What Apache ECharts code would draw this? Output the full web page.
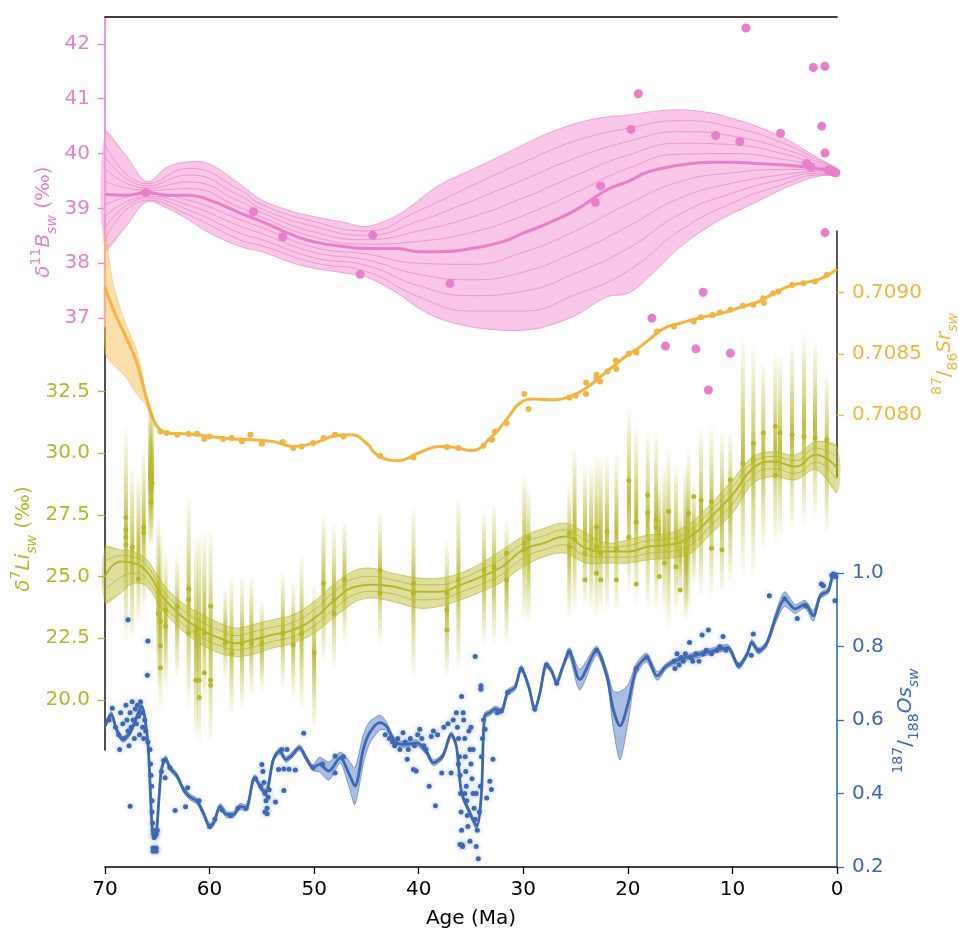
<!DOCTYPE html>
<html><head><meta charset="utf-8">
<script src="https://cdn.jsdelivr.net/npm/echarts@6.0.0/dist/echarts.min.js"></script>
<style>html,body{margin:0;padding:0;background:#fff}#c{width:959px;height:928px}</style>
</head><body><div id="c"></div>
<script>
// ---------- Boron (δ11B) ----------
const bAges = [70,68,66,64,62,60,57,55,52,50,47,45,42,40,38,35,32,30,28,25,22,20,18,15,12,10,8,5,2,0];
const bLo  = [38.24,38.67,39.12,39.00,38.79,38.55,38.30,38.21,38.00,37.91,37.82,37.75,37.45,37.18,36.99,36.84,36.78,36.78,36.84,37.05,37.39,37.45,37.75,38.30,38.70,38.91,39.09,39.37,39.58,39.61];
const bMed = [39.26,39.24,39.29,39.24,39.24,39.15,38.91,38.76,38.51,38.39,38.30,38.27,38.27,38.21,38.21,38.27,38.39,38.55,38.70,38.97,39.34,39.49,39.67,39.79,39.84,39.84,39.82,39.79,39.73,39.67];
const bUp  = [40.40,39.97,39.49,39.76,39.85,39.81,39.43,39.15,38.94,38.85,38.74,38.67,38.88,39.15,39.43,39.70,39.97,40.16,40.34,40.55,40.67,40.70,40.76,40.80,40.74,40.64,40.52,40.28,39.94,39.73];
const bQAges = [70,66,62,57,55,50,45,40,35,30,25,20,15,10,5,2,0];
const bQu1 = [39.49,39.33,39.36,39.01,38.84,38.48,38.35,38.40,38.56,38.87,39.29,39.73,39.99,40.00,39.89,39.77,39.68];
const bQu2 = [39.72,39.37,39.48,39.12,38.92,38.57,38.43,38.59,38.84,39.19,39.60,39.97,40.19,40.16,39.99,39.81,39.69];
const bQu3 = [39.94,39.41,39.61,39.22,38.99,38.67,38.51,38.77,39.13,39.52,39.92,40.22,40.40,40.32,40.08,39.86,39.71];
const bQu4 = [40.17,39.45,39.73,39.33,39.07,38.76,38.59,38.96,39.41,39.84,40.23,40.46,40.60,40.48,40.18,39.90,39.72];
const bQl1 = [39.06,39.26,39.15,38.79,38.65,38.29,38.17,38.00,37.98,38.20,38.59,39.08,39.49,39.65,39.71,39.70,39.66];
const bQl2 = [38.85,39.22,39.06,38.67,38.54,38.20,38.06,37.80,37.70,37.84,38.20,38.67,39.19,39.46,39.62,39.67,39.65];
const bQl3 = [38.65,39.19,38.97,38.54,38.43,38.10,37.96,37.59,37.41,37.49,37.82,38.27,38.90,39.28,39.54,39.64,39.63];
const bQl4 = [38.44,39.15,38.88,38.42,38.32,38.01,37.85,37.39,37.13,37.13,37.43,37.86,38.60,39.10,39.45,39.61,39.62];
const bPts = [[66.1,39.29],[55.8,38.94],[53.0,38.48],[45.6,37.80],[44.4,38.51],[37.0,37.63],[23.1,39.11],[22.6,39.41],[19.7,40.44],[19.0,41.09],[17.7,37.0],[16.4,36.49],[13.5,36.44],[12.8,37.47],[12.3,35.69],[11.6,40.33],[10.2,36.36],[9.3,40.22],[8.7,42.29],[5.4,40.37],[2.9,39.82],[2.5,39.75],[2.27,41.57],[1.46,40.50],[1.15,41.59],[1.15,40.01],[1.15,38.56],[0.8,39.70],[0.5,39.68],[0.3,39.66],[0.1,39.65]];
const bTicks = [37,38,39,40,41,42];

// ---------- Strontium (87/86Sr) ----------
const srAges = [70,69.2,68.1,67,66,65.3,64.7,64,62,60,58,56,54,52,50,48,46.5,45,44,42,40,38,36.5,35,33,31.5,30.3,29,27,25.5,24,22,20,19,18,16.5,15,13,11,9,7.5,6,4.5,3,1.5,0];
const srVals = [0.709049,0.708859,0.708655,0.708437,0.708125,0.707948,0.70788,0.707853,0.707845,0.707825,0.707807,0.707798,0.707785,0.707744,0.707771,0.70783,0.707839,0.707771,0.707676,0.707627,0.70769,0.707744,0.707736,0.707711,0.707825,0.707975,0.708098,0.70813,0.708125,0.708152,0.70822,0.708356,0.708492,0.708546,0.708614,0.70871,0.70875,0.708796,0.708832,0.708886,0.708927,0.708995,0.709055,0.709082,0.709117,0.709191];
const srBandAges = [70,69.2,68.1,67,66,65.3,64.7];
const srBandLo = [0.708506,0.70841,0.70832,0.708175,0.70807,0.70793,0.707872];
const srBandHi = [0.709498,0.70906,0.708761,0.708533,0.708166,0.707966,0.707888];
const srPts = [[64.7,0.707866],[64.1,0.707853],[63.1,0.707839],[62.0,0.707845],[61.2,0.707847],[60.5,0.707804],[60.0,0.707825],[58.7,0.707804],[57.9,0.707812],[56.9,0.707785],[56.1,0.707839],[55.0,0.707766],[53.0,0.70778],[52.0,0.707731],[51.2,0.707744],[50.1,0.707771],[49.1,0.707812],[48.0,0.707839],[47.2,0.707825],[43.7,0.707668],[40.5,0.707654],[37.3,0.707739],[36.2,0.707731],[33.8,0.70775],[33.0,0.707798],[32.7,0.707866],[31.6,0.707935],[29.9,0.708171],[29.5,0.708049],[25.6,0.708144],[25.0,0.708157],[24.0,0.708266],[24.0,0.708171],[23.0,0.708329],[23.0,0.708305],[22.65,0.708274],[21.95,0.708356],[21.16,0.708445],[21.1,0.708375],[19.9,0.7085],[19.2,0.708511],[17.2,0.708682],[15.6,0.708723],[13.7,0.708763],[13.0,0.708799],[11.9,0.708818],[11.2,0.708837],[10.2,0.708859],[9.0,0.708892],[8.0,0.7089],[7.05,0.708954],[7.0,0.708915],[6.1,0.708995],[5.6,0.709008],[4.3,0.709063],[3.2,0.709077],[2.1,0.70909],[0.98,0.709144]];
const srTicks = [0.7080,0.7085,0.7090];

// ---------- Lithium (δ7Li) ----------
const liAges = [70,68.5,67.3,66,64.5,63,61,59,57.5,56,54,52,50,48,46,44.5,42.5,40,38,36,34,32,30,28,26,24,22,20,18,16,14,12,10,8,6,4,2,0];
const liLo  = [23.92,24.33,24.73,24.6,23.65,22.97,22.3,21.89,21.76,21.83,22.1,22.3,22.7,23.38,23.99,24.13,23.99,23.72,23.79,24.06,24.39,24.8,25.41,25.81,25.95,25.55,25.55,25.55,25.68,25.75,25.95,26.76,27.57,28.79,29.06,28.92,29.33,28.39];
const liMed = [25.0,25.61,25.55,25.2,24.19,23.52,22.9,22.5,22.3,22.43,22.64,22.84,23.31,24.06,24.6,24.67,24.6,24.39,24.39,24.67,25.0,25.41,26.09,26.36,26.63,26.15,26.02,26.02,26.22,26.29,26.63,27.44,28.32,29.4,29.67,29.46,29.94,29.4];
const liUp  = [26.22,26.08,26.02,25.68,24.73,24.06,23.52,23.11,22.91,23.04,23.25,23.45,23.99,24.73,25.27,25.34,25.14,24.94,24.94,25.14,25.55,26.09,26.63,26.96,27.17,26.76,26.36,26.49,26.69,26.76,27.17,27.98,28.92,29.87,30.07,29.94,30.48,30.28];
const liQu  = [25.61,25.85,25.79,25.44,24.46,23.79,23.21,22.81,22.61,22.74,22.95,23.15,23.65,24.40,24.94,25.01,24.87,24.67,24.67,24.91,25.28,25.75,26.36,26.66,26.90,26.46,26.19,26.26,26.46,26.53,26.90,27.71,28.62,29.64,29.87,29.70,30.21,29.84];
const liQl  = [24.46,24.97,25.14,24.9,23.92,23.25,22.6,22.2,22.03,22.13,22.37,22.57,23.01,23.72,24.30,24.40,24.30,24.06,24.09,24.37,24.70,25.11,25.75,26.09,26.29,25.85,25.79,25.79,25.95,26.02,26.29,27.10,27.95,29.10,29.37,29.19,29.64,28.90];
const liBars = [[68.0,22.2,31.2],[67.4,22.3,29.6],[66.8,23.0,29.2],[66.3,23.5,30.3],[65.7,26.2,32.3],[65.6,26.0,31.8],[65.5,26.5,32.0],[64.9,20.4,27.6],[64.7,19.5,27.0],[64.2,20.3,26.1],[63.1,20.8,26.0],[62.0,19.5,28.4],[61.3,18.4,26.5],[61.0,18.1,26.9],[60.5,19.5,26.9],[59.9,18.1,27.0],[58.5,20.8,24.6],[57.9,19.3,25.1],[56.9,19.5,25.1],[56.0,20.1,25.1],[55.0,20.3,24.1],[53.0,20.4,25.3],[52.0,20.0,24.9],[51.2,19.5,26.0],[50.0,18.7,24.9],[49.1,21.4,27.7],[48.1,21.2,27.2],[47.1,22.2,27.4],[43.7,22.2,27.7],[40.5,20.8,28.0],[37.3,20.8,26.6],[36.2,21.1,28.4],[33.75,22.2,27.8],[32.8,22.2,28.1],[31.6,22.2,27.4],[29.9,23.2,29.3],[29.5,23.0,28.7],[25.6,23.2,28.9],[25.1,23.5,30.4],[24.1,23.8,29.6],[23.5,23.5,29.6],[23.0,23.2,30.0],[22.6,23.5,29.9],[22.0,23.5,30.0],[21.1,23.5,30.1],[19.9,24.2,32.0],[19.2,23.8,31.2],[18.1,23.5,31.0],[17.3,23.5,31.0],[17.0,24.6,28.9],[16.5,23.5,29.6],[16.1,22.8,30.3],[15.4,23.5,29.6],[15.0,24.2,27.8],[14.5,23.0,29.5],[14.4,23.5,28.5],[14.2,23.5,30.3],[13.7,24.6,28.9],[13.0,24.1,31.1],[12.0,24.1,31.2],[11.0,24.2,31.0],[10.2,24.6,31.0],[9.0,24.9,34.8],[8.0,24.9,34.5],[7.05,26.0,33.9],[5.9,26.2,34.2],[5.45,26.5,34.0],[4.3,26.8,34.6],[3.16,27.0,35.0],[2.1,27.3,34.7],[0.98,26.6,33.4]];
const liPts = [[68.0,27.4],[68.0,26.9],[68.0,26.6],[68.0,26.3],[67.4,26.2],[66.8,24.9],[66.3,27.0],[66.3,26.8],[65.6,29.0],[65.6,28.6],[65.6,28.0],[65.5,28.8],[64.9,24.4],[64.9,23.5],[64.7,23.2],[64.7,22.2],[64.7,21.3],[64.2,23.65],[64.2,23.0],[63.1,23.8],[62.0,24.5],[62.0,24.06],[62.0,22.7],[61.3,22.84],[61.3,20.8],[61.0,20.8],[61.0,20.1],[60.5,22.7],[60.5,21.1],[59.9,23.8],[59.9,20.8],[59.9,20.6],[58.5,22.3],[57.9,21.9],[56.9,22.3],[56.0,22.3],[55.0,22.3],[53.0,22.7],[52.0,22.23],[51.2,22.7],[50.0,21.9],[49.1,24.73],[48.1,24.06],[48.1,23.5],[47.1,24.87],[43.7,25.27],[43.7,24.33],[40.5,24.73],[40.5,24.33],[37.3,24.33],[37.3,23.65],[37.3,22.84],[36.2,24.87],[33.75,25.27],[32.8,25.4],[31.6,25.95],[31.6,24.87],[29.9,26.36],[29.9,26.1],[29.5,26.6],[25.6,26.76],[25.6,26.2],[25.1,26.5],[24.1,25.95],[24.1,24.87],[23.0,27.0],[23.0,26.2],[23.0,25.14],[22.6,25.95],[22.6,24.87],[22.0,26.83],[21.1,26.1],[21.1,24.87],[19.9,28.9],[19.9,26.6],[19.2,27.2],[19.2,24.7],[18.1,28.3],[18.1,27.6],[17.3,27.3],[17.3,27.0],[17.0,25.0],[16.5,25.55],[16.1,27.64],[15.4,25.4],[15.0,24.46],[14.2,27.57],[13.7,28.25],[13.0,28.1],[12.0,28.04],[12.0,26.15],[11.0,26.09],[10.2,28.92],[9.0,29.6],[8.0,30.41],[8.0,29.74],[7.05,30.82],[5.9,31.09],[5.9,29.1],[5.45,30.82],[4.3,30.75],[3.16,30.68],[2.1,30.62],[0.98,30.55]];
const liTicks = [20,22.5,25,27.5,30,32.5];

// ---------- Osmium (187/188Os) ----------
const osAges = [70,69.4,68.9,68.3,67.6,67.0,66.5,66.0,65.8,65.5,65.3,65.1,64.8,64.6,64.2,63.8,63.1,62.5,61.9,61.2,60.6,60.0,59.6,59.0,58.4,57.7,57.1,56.5,55.7,55.0,54.6,53.9,53.3,52.7,52.2,51.4,50.7,50.1,49.5,48.6,47.5,46.7,46.1,45.3,44.7,43.7,43.1,42.3,41.5,40.2,39.3,38.6,37.7,36.9,36.4,35.9,35.1,34.45,34.0,33.7,33.2,32.7,32.1,31.5,30.8,30.2,29.5,28.9,28.4,27.8,27.3,26.8,26.2,25.6,24.6,23.0,22.0,21.4,20.75,19.96,19.2,18.2,17.2,16.3,15.0,13.7,12.5,11.2,10.4,9.4,8.6,8.15,7.5,6.75,5.8,5.0,4.0,3.06,2.27,1.6,0.84,0.35,0.0];
const osVals = [0.584,0.615,0.5745,0.547,0.5655,0.606,0.638,0.5655,0.4927,0.311,0.2835,0.288,0.402,0.4654,0.4945,0.470,0.447,0.411,0.391,0.379,0.347,0.311,0.32,0.365,0.343,0.343,0.365,0.361,0.443,0.411,0.405,0.4927,0.515,0.4927,0.502,0.5245,0.4927,0.470,0.479,0.461,0.4973,0.456,0.42,0.52,0.5655,0.593,0.5836,0.5427,0.5336,0.538,0.515,0.4836,0.502,0.561,0.529,0.402,0.347,0.311,0.402,0.611,0.62,0.63,0.6245,0.6746,0.688,0.740,0.6927,0.630,0.6746,0.750,0.7336,0.702,0.747,0.784,0.71,0.788,0.72,0.629,0.584,0.647,0.738,0.77,0.72,0.747,0.7655,0.7745,0.7838,0.793,0.797,0.747,0.779,0.811,0.788,0.8064,0.8836,0.929,0.902,0.9155,0.8836,0.938,0.952,0.9927,0.9927];
const osHalf = [0.008,0.008,0.008,0.008,0.008,0.008,0.008,0.008,0.008,0.008,0.008,0.008,0.008,0.008,0.008,0.008,0.008,0.008,0.008,0.008,0.008,0.008,0.008,0.008,0.008,0.008,0.008,0.008,0.008,0.008,0.008,0.008,0.008,0.008,0.008,0.008,0.008,0.008,0.02,0.025,0.015,0.035,0.05,0.04,0.03,0.02,0.012,0.008,0.008,0.008,0.008,0.008,0.008,0.008,0.008,0.008,0.008,0.008,0.008,0.008,0.008,0.008,0.008,0.008,0.008,0.008,0.008,0.008,0.008,0.008,0.008,0.008,0.008,0.012,0.028,0.012,0.015,0.05,0.093,0.05,0.015,0.012,0.012,0.008,0.008,0.008,0.008,0.008,0.008,0.008,0.008,0.008,0.008,0.008,0.015,0.02,0.012,0.01,0.015,0.008,0.008,0.008,0.008];
const osPts = [[69.6,0.60],[69.3,0.632],[69.0,0.58],[68.7,0.56],[68.6,0.52],[68.5,0.62],[68.3,0.59],[68.2,0.55],[68.0,0.64],[67.9,0.60],[67.8,0.57],[67.7,0.53],[67.6,0.62],[67.5,0.58],[67.4,0.65],[67.3,0.60],[67.2,0.55],[67.1,0.63],[67.0,0.59],[66.9,0.64],[66.8,0.61],[66.7,0.56],[66.6,0.65],[66.5,0.62],[66.4,0.58],[66.3,0.55],[66.2,0.60],[66.1,0.57],[65.9,0.54],[67.8,0.873],[65.9,0.815],[65.95,0.722],[67.6,0.365],
[65.7,0.52],[65.65,0.48],[65.6,0.45],[65.55,0.42],[65.5,0.38],[65.5,0.35],[65.45,0.32],[65.4,0.30],[65.35,0.29],[65.3,0.28],[65.2,0.285],[65.1,0.29],[65.4,0.252],[65.1,0.243],[65.4,0.243],[65.1,0.252],[65.0,0.30],[64.6,0.46],[64.25,0.443],[64.4,0.49],[63.8,0.47],
[63.3,0.354],[62.3,0.364],[62.1,0.4155],[61.0,0.38],[60.0,0.31],[59.5,0.33],[58.8,0.355],[58.0,0.34],[57.3,0.36],[56.5,0.36],
[55.6,0.44],[55.1,0.42],[55.0,0.479],[54.9,0.46],[54.8,0.43],[54.7,0.40],[54.6,0.38],[54.5,0.36],[54.5,0.345],[54.4,0.39],[54.3,0.41],[54.7,0.35],
[53.7,0.377],[52.9,0.408],[53.4,0.465],[52.9,0.467],[52.4,0.466],[51.8,0.464],[53.1,0.52],[52.6,0.52],[51.0,0.564],[50.1,0.47],[49.2,0.48],[48.0,0.502],[48.0,0.456],[47.2,0.50],
[43.2,0.56],[42.8,0.55],[42.5,0.54],[42.3,0.53],[42.0,0.55],[41.8,0.52],[41.5,0.565],[41.3,0.54],[41.1,0.493],[41.0,0.52],[40.8,0.55],[40.5,0.465],[40.4,0.53],[40.25,0.461],[40.1,0.56],[39.9,0.5745],[39.7,0.55],[39.5,0.53],[39.3,0.52],[39.0,0.42],[38.8,0.555],[38.6,0.57],[38.4,0.367],[38.2,0.56],[37.8,0.456],[37.6,0.58],[37.2,0.59],[36.9,0.456],[36.7,0.60],
[36.4,0.62],[36.3,0.58],[36.2,0.55],[36.1,0.50],[36.05,0.45],[36.0,0.40],[35.95,0.35],[35.9,0.664],[35.9,0.30],[35.85,0.26],[35.8,0.256],[36.05,0.261],[35.7,0.60],[35.6,0.55],[35.55,0.50],[35.5,0.46],[35.45,0.42],[35.4,0.38],[35.35,0.34],[35.3,0.31],[35.2,0.57],[35.1,0.27],[35.1,0.52],[35.0,0.48],[34.9,0.44],[34.8,0.40],[34.7,0.36],[34.6,0.773],[34.6,0.33],[34.5,0.256],[34.4,0.30],[34.3,0.2227],[34.2,0.35],[34.1,0.42],[34.05,0.693],[34.05,0.684],[34.0,0.50],[33.9,0.55],[33.8,0.60],[33.65,0.5745],[33.5,0.388],[33.2,0.4335],[33.05,0.411],[32.9,0.493],[32.5,0.62],[32.1,0.6245],[35.75,0.62],[35.0,0.58],[34.8,0.52],[36.2,0.48],[35.6,0.40],[34.5,0.40],
[31.5,0.675],[30.2,0.738],[28.9,0.63],[27.8,0.75],[26.8,0.70],[25.6,0.785],[23.0,0.79],[19.2,0.74],[18.2,0.77],
[15.6,0.76],[15.5,0.74],[15.3,0.78],[15.1,0.75],[14.9,0.77],[14.7,0.76],[14.5,0.78],[14.1,0.811],[14.0,0.77],[13.8,0.76],[13.5,0.78],[13.2,0.76],[12.9,0.831],[12.8,0.78],[12.5,0.79],[12.3,0.845],[12.0,0.78],[11.5,0.79],[11.2,0.80],[10.9,0.827],[10.6,0.79],[9.4,0.75],[8.2,0.776],[8.0,0.834],[7.5,0.79],[6.47,0.938],[5.0,0.93],[3.8,0.876],[3.0,0.91],[1.5,0.97],[1.3,0.965],[0.5,0.993],[0.35,0.997],[0.2,0.9245],[0.1,0.99]];

const xTicksInterval = 10;

// ---------- styling ----------
const PINK = '#e97fc9', ORANGE = '#f3b440', OLIVE = '#b5b829', BLUE = '#3d67b2';
const FONT = 'DejaVu Sans';
const zip = (a, b) => a.map((x, i) => [x, b[i]]);

// confidence band drawn as a polygon through the axis scales
function bandSeries(gi, ages, lo, hi, edgeColor, fill, z, smooth) {
  return {
    type: 'custom', xAxisIndex: gi, yAxisIndex: gi, data: [[ages[0], lo[0], hi[0]]], z: z, silent: true, clip: false,
    renderItem: function (params, api) {
      const upper = ages.map((a, i) => api.coord([a, hi[i]]));
      const lower = ages.map((a, i) => api.coord([a, lo[i]]));
      const poly = upper.concat(lower.slice().reverse());
      return {type: 'group', children: [
        {type: 'polygon', shape: {points: poly, smooth: smooth}, style: {fill: fill, stroke: null}},
        {type: 'polyline', shape: {points: upper, smooth: smooth}, style: {fill: null, stroke: edgeColor, lineWidth: 0.8}},
        {type: 'polyline', shape: {points: lower, smooth: smooth}, style: {fill: null, stroke: edgeColor, lineWidth: 0.8}}
      ]};
    }
  };
}
function lineSeries(gi, ages, vals, color, width, z, smooth, opacity) {
  return {type: 'line', xAxisIndex: gi, yAxisIndex: gi, data: zip(ages, vals), symbol: 'none',
          smooth: smooth, lineStyle: {width: width, color: color, opacity: opacity == null ? 1 : opacity}, silent: true, z: z, clip: false};
}
function scatterSeries(gi, pts, color, size, z, glow) {
  const st = {color: color, opacity: 1};
  if (glow) { st.shadowBlur = 5; st.shadowColor = 'rgba(61,103,178,0.55)'; }
  return {type: 'scatter', xAxisIndex: gi, yAxisIndex: gi, data: pts, symbolSize: size,
          itemStyle: st, silent: true, z: z, clip: false};
}

const series = [];
// Boron
series.push(bandSeries(0, bAges, bLo, bUp, 'rgba(233,127,201,0.8)', 'rgba(244,160,214,0.6)', 2, 0.35));
[bQu1, bQu2, bQu3, bQu4, bQl1, bQl2, bQl3, bQl4].forEach(q => series.push(lineSeries(0, bQAges, q, PINK, 0.9, 2, 0.5, 0.75)));
series.push(lineSeries(0, bAges, bMed, PINK, 3, 2, 0.5));
series.push(scatterSeries(0, bPts, PINK, 9, 2));
// Strontium
series.push(bandSeries(1, srBandAges, srBandLo, srBandHi, 'rgba(243,180,64,0.6)', 'rgba(246,196,100,0.55)', 3, 0.3));
series.push(lineSeries(1, srAges, srVals, ORANGE, 3, 3, 0.5));
series.push(scatterSeries(1, srPts, ORANGE, 6, 3));
// Lithium bars
series.push({
  type: 'custom', xAxisIndex: 2, yAxisIndex: 2, data: liBars, z: 4, silent: true,
  encode: {x: 0, y: [1, 2]},
  renderItem: function (params, api) {
    const a = api.value(0), lo = api.value(1), hi = api.value(2);
    const p1 = api.coord([a, hi]), p2 = api.coord([a, lo]);
    return {
      type: 'rect',
      shape: {x: p1[0] - 2, y: p1[1], width: 4, height: p2[1] - p1[1]},
      style: {fill: new echarts.graphic.LinearGradient(0, 0, 0, 1, [
        {offset: 0, color: 'rgba(181,184,41,0)'},
        {offset: 0.25, color: 'rgba(181,184,41,0.4)'},
        {offset: 0.5, color: 'rgba(181,184,41,0.9)'},
        {offset: 0.75, color: 'rgba(181,184,41,0.4)'},
        {offset: 1, color: 'rgba(181,184,41,0)'}
      ])}
    };
  }
});
series.push(bandSeries(2, liAges, liLo, liUp, 'rgba(181,184,41,0.8)', 'rgba(190,192,60,0.5)', 4, 0.35));
series.push(lineSeries(2, liAges, liQu, OLIVE, 0.9, 4, 0.5, 0.85));
series.push(lineSeries(2, liAges, liQl, OLIVE, 0.9, 4, 0.5, 0.85));
series.push(lineSeries(2, liAges, liMed, OLIVE, 2, 4, 0.5));
series.push(scatterSeries(2, liPts, OLIVE, 5, 4));
// Osmium
series.push(bandSeries(3, osAges, osVals.map((v, i) => v - osHalf[i]), osVals.map((v, i) => v + osHalf[i]),
  'rgba(61,103,178,0.7)', 'rgba(100,135,200,0.55)', 5, 0.25));
series.push(lineSeries(3, osAges, osVals, BLUE, 2.8, 5, 0.3));
series.push(scatterSeries(3, osPts, BLUE, 5, 5, true));

const xBase = {type: 'value', min: 0, max: 70, inverse: true, splitLine: {show: false}};
const grids = [
  {left: 105, right: 122, top: 17, height: 311},
  {left: 105, right: 122, top: 231, height: 246},
  {left: 105, right: 122, top: 328, height: 422},
  {left: 105, right: 122, top: 573, height: 294}
].map(g => Object.assign(g, {containLabel: false, outerBoundsMode: 'none'}));

function yAx(gi, pos, min, max, spineColor, labelColor, ticks, fmt) {
  const ax = {
    type: 'value', gridIndex: gi, position: pos, min: min, max: max, splitLine: {show: false},
    axisLine: {show: true, onZero: false, lineStyle: {color: spineColor, width: 1.6}},
    axisTick: {show: true, length: 7, lineStyle: {color: labelColor, width: 1.3}},
    axisLabel: {color: labelColor, fontSize: 20, fontFamily: FONT, margin: 15, formatter: fmt}
  };
  if (ticks) { ax.axisTick.customValues = ticks; ax.axisLabel.customValues = ticks; }
  return ax;
}

const richFor = c => ({
  i: {fill: c, fontSize: 20, fontFamily: FONT, fontStyle: 'italic', lineHeight: 30, verticalAlign: 'middle'},
  n: {fill: c, fontSize: 20, fontFamily: FONT, lineHeight: 30, verticalAlign: 'middle'},
  s: {fill: c, fontSize: 14, fontFamily: FONT, lineHeight: 16, verticalAlign: 'top'},
  b: {fill: c, fontSize: 14, fontFamily: FONT, lineHeight: 16, verticalAlign: 'bottom'},
  bi: {fill: c, fontSize: 14, fontFamily: FONT, fontStyle: 'italic', lineHeight: 16, verticalAlign: 'bottom'}
});
function title(x, y, text, c) {
  return {type: 'text', x: x, y: y, rotation: Math.PI / 2, silent: true,
          style: {text: text, rich: richFor(c), fill: c, fontSize: 20, fontFamily: FONT,
                  align: 'center', verticalAlign: 'middle', textAlign: 'center', textVerticalAlign: 'middle'}};
}

const option = {
  animation: false,
  backgroundColor: '#fff',
  grid: grids,
  xAxis: [
    Object.assign({}, xBase, {gridIndex: 0, position: 'top', axisLine: {show: true, onZero: false, lineStyle: {color: '#000', width: 1.6}}, axisTick: {show: false}, axisLabel: {show: false}}),
    Object.assign({}, xBase, {gridIndex: 1, show: false}),
    Object.assign({}, xBase, {gridIndex: 2, show: false}),
    Object.assign({}, xBase, {gridIndex: 3, position: 'bottom', interval: xTicksInterval,
      axisLine: {show: true, onZero: false, lineStyle: {color: '#000', width: 1.6}},
      axisTick: {show: true, length: 7, lineStyle: {color: '#000', width: 1.3}},
      axisLabel: {color: '#000', fontSize: 20, fontFamily: FONT, margin: 13},
      name: 'Age (Ma)', nameLocation: 'middle', nameGap: 42,
      nameTextStyle: {color: '#000', fontSize: 20, fontFamily: FONT}})
  ],
  yAxis: [
    yAx(0, 'left', 36.82, 42.49, PINK, PINK, bTicks, v => String(v)),
    yAx(1, 'right', 0.707494, 0.709503, '#333', ORANGE, srTicks, v => v.toFixed(4)),
    yAx(2, 'left', 17.97, 35.08, '#222', OLIVE, liTicks, v => v.toFixed(1)),
    Object.assign(yAx(3, 'right', 0.2, 1.0, BLUE, BLUE, null, v => v.toFixed(1)), {interval: 0.2})
  ],
  graphic: [
    title(44, 222, '{i|δ}{s|11}{i|B}{bi|sw}{n| (‰)}', PINK),
    title(24, 539, '{i|δ}{s|7}{i|Li}{bi|sw}{n| (‰)}', OLIVE),
    title(945, 354, '{s|87}{n|/}{b|86}{i|Sr}{bi|sw}', ORANGE),
    title(906, 721, '{s|187}{n|/}{b|188}{i|Os}{bi|sw}', BLUE)
  ],
  series: series
};

const chart = echarts.init(document.getElementById('c'), null, {renderer: 'canvas'});
chart.setOption(option);
</script></body></html>
